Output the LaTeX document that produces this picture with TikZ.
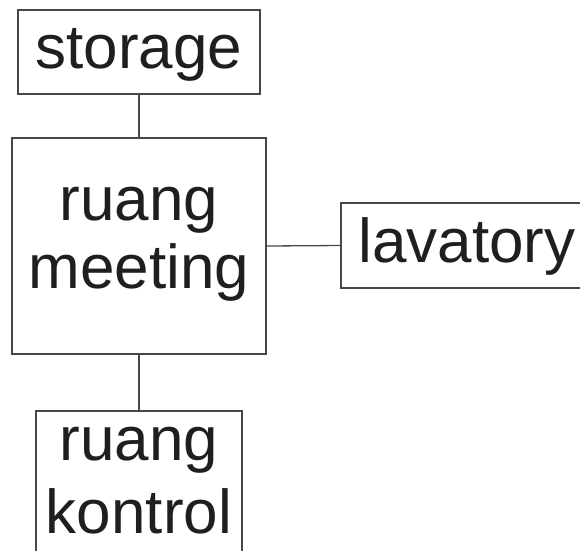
\documentclass[tikz,border=0pt]{standalone}
\usepackage{fontspec}
\setmainfont{Liberation Sans}
\begin{document}
\begin{tikzpicture}[x=1pt,y=-1pt,
  roombox/.style={draw=black!72, line width=1.3pt, rectangle, inner sep=0pt, fill=white},
  roomtext/.style={font=\fontsize{62}{68}\selectfont, text=black!88, inner sep=0pt, anchor=base},
  link/.style={draw=black!72, line width=1.3pt}]
\useasboundingbox (0,0) rectangle (580,550);
\clip (0,0) rectangle (580,550);
% boxes
\node[roombox, minimum width=242pt, minimum height=84pt] (storage) at (139,52) {};
\node[roombox, minimum width=254pt, minimum height=216pt] (meeting) at (139,246) {};
\node[roombox, minimum width=250pt, minimum height=85pt] (lavatory) at (466,245.5) {};
\node[roombox, minimum width=206pt, minimum height=170pt] (kontrol) at (139,496) {};
% texts
\node[roomtext] (tstorage) at (139,68) {storage};
\node[roomtext] (tmeeting1) at (139,220) {ruang};
\node[roomtext] (tmeeting2) at (139,288) {meeting};
\node[roomtext] (tlavatory) at (467,262) {lavatory};
\node[roomtext] (tkontrol1) at (139,460) {ruang};
\node[roomtext] (tkontrol2) at (139,533) {kontrol};
% connectors
\draw[link] (storage.south) -- (meeting.north);
\draw[link] (meeting.south) -- (kontrol.north);
\draw[link] (meeting.east) -- (lavatory.west);
\end{tikzpicture}
\end{document}
